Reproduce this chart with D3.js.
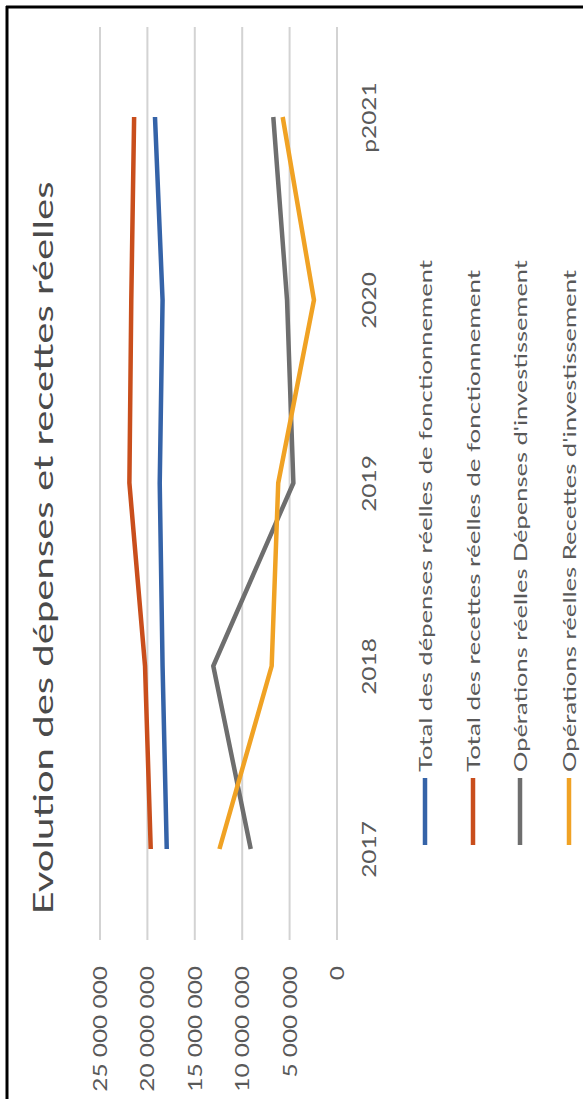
<!DOCTYPE html>
<html>
<head>
<meta charset="utf-8">
<script src="https://cdn.jsdelivr.net/npm/d3@7/dist/d3.min.js"></script>
<style>
  html, body { margin: 0; padding: 0; background: #fff; }
  svg { display: block; }
  text { font-family: Lato, "Open Sans", sans-serif; }
</style>
</head>
<body>
<div id="chart"></div>
<script>
const WIDTH = 583;
const HEIGHT = 1099;

// données
const categories = ["2017", "2018", "2019", "2020", "p2021"];
const depensesFonct = [17960000, 18400000, 18700000, 18400000, 19200000];
const recettesFonct = [19650000, 20250000, 21900000, 21700000, 21400000];
const depensesInvest = [9100000, 13050000, 4600000, 5270000, 6720000];
const recettesInvest = [12400000, 6890000, 6200000, 2430000, 5730000];
const tickValues = [0, 5000000, 10000000, 15000000, 20000000, 25000000];

const seriesNames = [
    "Total des dépenses réelles de fonctionnement",
    "Total des recettes réelles de fonctionnement",
    "Opérations réelles Dépenses d'investissement",
    "Opérations réelles Recettes d'investissement"
];
const seriesValues = [depensesFonct, recettesFonct, depensesInvest, recettesInvest];
const colors = ["#3563a8", "#c94e1c", "#6e6e6e", "#f0a224"];
const legendLengths = [512, 502, 512, 502];

const STRETCH = 1.32; // le graphique d'origine est étiré dans le sens du texte

const svg = d3.select("#chart").append("svg")
    .attr("width", WIDTH)
    .attr("height", HEIGHT);

// cadre
svg.append("line").attr("x1", 7).attr("x2", 7).attr("y1", 6).attr("y2", HEIGHT)
    .attr("stroke", "#000").attr("stroke-width", 3);
svg.append("line").attr("x1", 6).attr("x2", WIDTH).attr("y1", 7).attr("y2", 7)
    .attr("stroke", "#000").attr("stroke-width", 3);

// échelles (axe des valeurs horizontal, catégories verticales)
const x = d3.scaleLinear().domain([0, 25000000]).range([337, 100]);
const y = d3.scalePoint().domain(categories).range([849, 117]);

// quadrillage
svg.append("g").selectAll("line")
    .data(tickValues)
    .join("line")
    .attr("x1", d => x(d)).attr("x2", d => x(d))
    .attr("y1", 27).attr("y2", 940)
    .attr("stroke", "#d3d3d3")
    .attr("stroke-width", 2);

// axe des valeurs
const fmt = d => d3.format(",")(d).replace(/,/g, " ");
const valueAxis = svg.append("g")
    .attr("transform", "translate(0,966)")
    .call(d3.axisBottom(x).tickValues(tickValues).tickSize(0).tickFormat(fmt));
valueAxis.select(".domain").remove();
valueAxis.selectAll("text")
    .attr("x", 0).attr("y", 0).attr("dy", "0.35em")
    .attr("text-anchor", "end")
    .attr("transform", `rotate(-90) scale(${STRETCH},1)`)
    .attr("fill", "#595959")
    .style("font-size", "18.5px")
    .style("font-family", "Lato, sans-serif");

// axe des catégories
const catAxis = svg.append("g")
    .attr("transform", "translate(370,0)")
    .call(d3.axisRight(y).tickSize(0));
catAxis.select(".domain").remove();
catAxis.selectAll("text")
    .attr("x", 0).attr("y", 0).attr("dy", "0.35em")
    .attr("text-anchor", "middle")
    .attr("transform", `rotate(-90) scale(${STRETCH},1)`)
    .attr("fill", "#595959")
    .style("font-size", "18.5px")
    .style("font-family", "Lato, sans-serif");

// courbes
const line = d3.line()
    .x(d => x(d.v))
    .y(d => y(d.c));

svg.append("g").selectAll("path")
    .data(seriesValues.map((vals, i) => ({
        i,
        pts: vals.map((v, j) => ({ c: categories[j], v }))
    })))
    .join("path")
    .attr("d", d => line(d.pts))
    .attr("fill", "none")
    .attr("stroke", d => colors[d.i])
    .attr("stroke-width", 4.5)
    .attr("stroke-linejoin", "round");

// titre
svg.append("text")
    .attr("transform", "translate(44,548) rotate(-90)")
    .attr("text-anchor", "middle")
    .attr("dy", "0.35em")
    .attr("textLength", 733)
    .attr("lengthAdjust", "spacingAndGlyphs")
    .attr("fill", "#4a4a4a")
    .style("font-size", "26px")
    .text("Evolution des dépenses et recettes réelles");

// légende
const legendX = [425, 473, 520, 569];
const legend = svg.append("g").selectAll("g")
    .data(seriesNames)
    .join("g")
    .attr("transform", (d, i) => `translate(${legendX[i]},0)`);

legend.append("line")
    .attr("x1", 0).attr("x2", 0)
    .attr("y1", 778).attr("y2", 845)
    .attr("stroke", (d, i) => colors[i])
    .attr("stroke-width", 4.5);

legend.append("text")
    .attr("transform", "translate(1,772) rotate(-90)")
    .attr("dy", "0.35em")
    .attr("textLength", (d, i) => legendLengths[i])
    .attr("lengthAdjust", "spacingAndGlyphs")
    .attr("fill", "#595959")
    .style("font-size", "17px")
    .text(d => d);
</script>
</body>
</html>
